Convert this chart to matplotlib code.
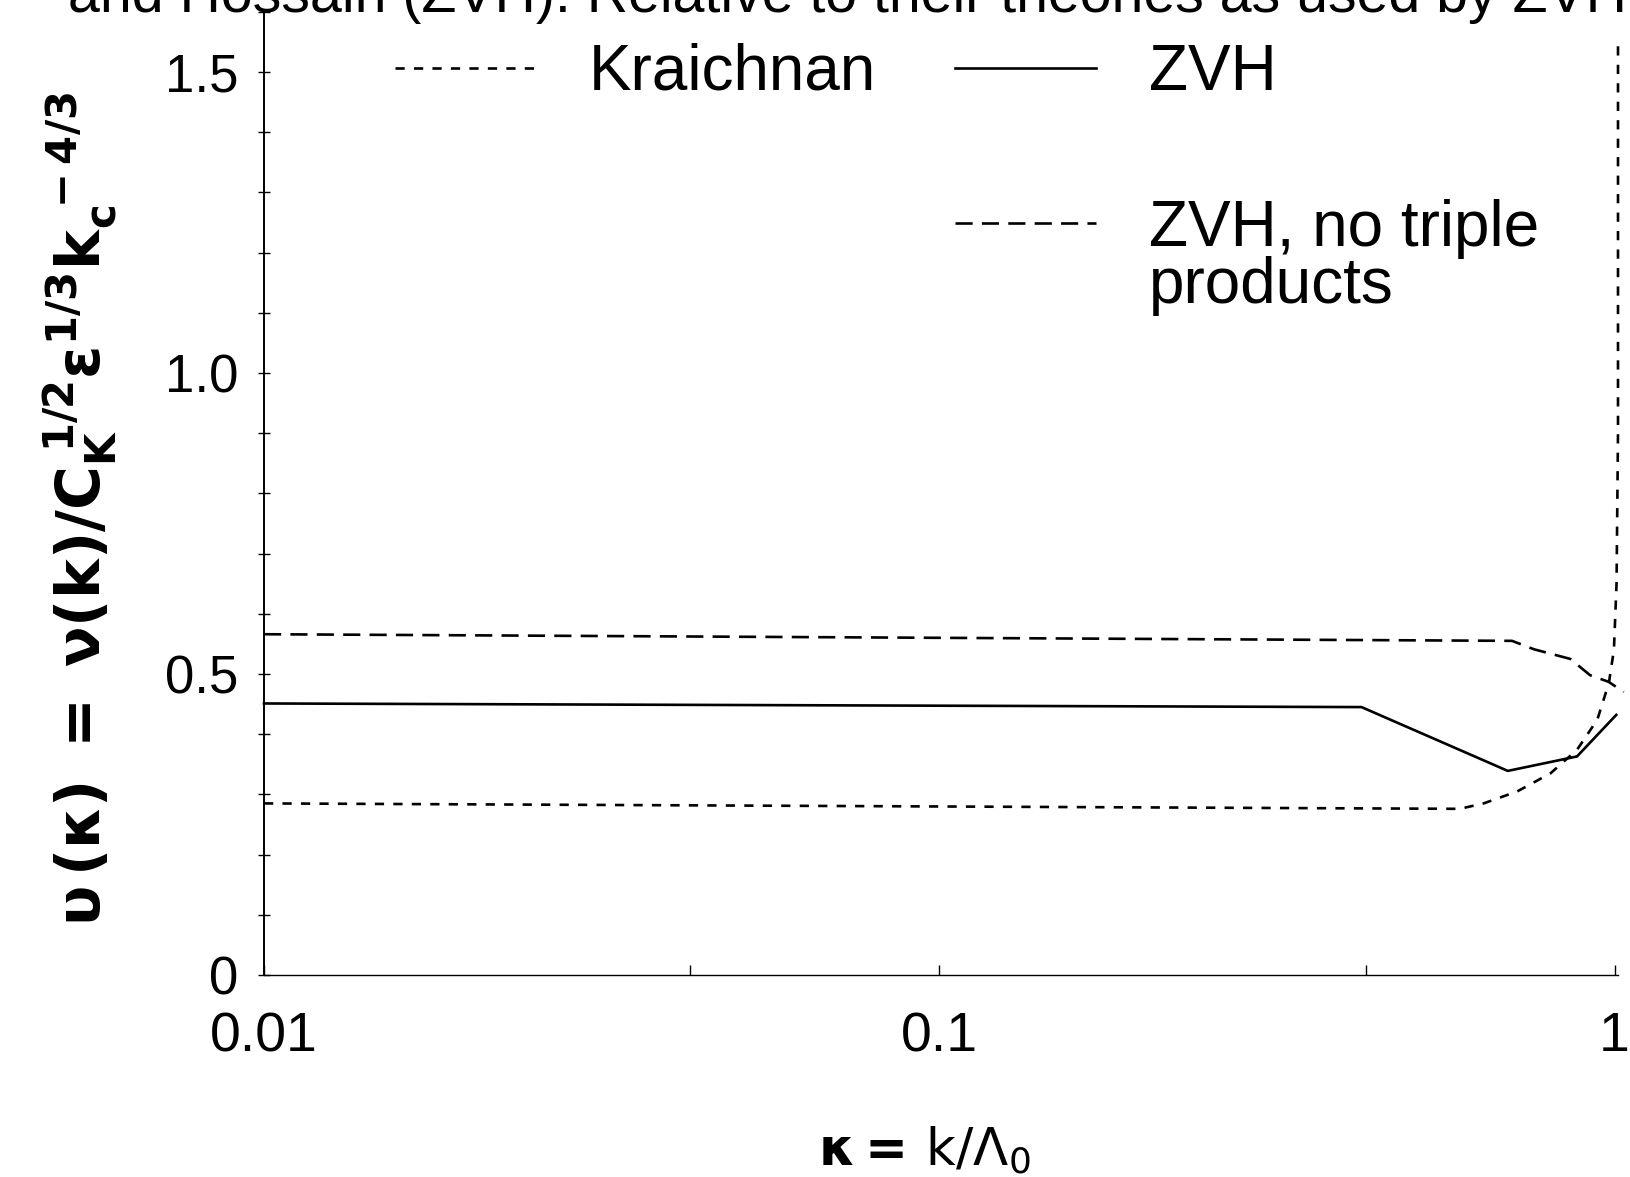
import matplotlib
matplotlib.use("Agg")
import matplotlib.pyplot as plt
from matplotlib.lines import Line2D
from matplotlib.ticker import MultipleLocator

plt.rcParams["font.family"] = ["Liberation Sans", "DejaVu Sans"]
plt.rcParams["mathtext.fontset"] = "dejavusans"

# curves (kappa = k / Lambda_0, normalised eddy viscosity)
kraichnan_k = [0.01, 0.59, 0.64, 0.718, 0.804, 0.88, 0.943, 0.981, 0.998, 1.007, 1.012, 1.012]
kraichnan_nu = [0.285, 0.276, 0.285, 0.305, 0.335, 0.374, 0.424, 0.485, 0.54, 0.65, 0.9, 1.55]

zvh_k = [0.01, 0.422, 0.695, 0.88, 1.006]
zvh_nu = [0.451, 0.445, 0.339, 0.363, 0.432]

zvh_nt_k = [0.01, 0.705, 0.76, 0.86, 0.92, 0.98, 1.032]
zvh_nt_nu = [0.566, 0.555, 0.541, 0.525, 0.498, 0.487, 0.47]

y_major = [0, 0.5, 1.0, 1.5]
y_labels = ["0", "0.5", "1.0", "1.5"]
x_major = [0.01, 0.1, 1]
x_labels = ["0.01", "0.1", "1"]
x_minor = [0.0428, 0.428]

caption = "and Hossain (ZVH). Relative to their theories as used by ZVH"

W, H = 1630, 1177
fig = plt.figure(figsize=(W / 100, H / 100), dpi=100)
ax = fig.add_axes([264 / W, 1 - 975 / H, (1618 - 264) / W, (975 - 11.7) / H])

lw = 1.9
l_k, = ax.plot(kraichnan_k, kraichnan_nu, color="black", lw=lw, dashes=(3.5, 3.5), clip_on=False)
l_z, = ax.plot(zvh_k, zvh_nu, color="black", lw=lw, clip_on=False)
l_nt, = ax.plot(zvh_nt_k, zvh_nt_nu, color="black", lw=lw, dashes=(6.5, 3.5), clip_on=False)

ax.set_xscale("log")
ax.set_xlim(0.01, 1.012)
ax.set_ylim(0, 1.6)

ax.spines["top"].set_visible(False)
ax.spines["right"].set_visible(False)
ax.spines["left"].set_linewidth(1.4)
ax.spines["bottom"].set_linewidth(1.0)

ax.set_yticks(y_major)
ax.set_yticklabels(y_labels)
ax.yaxis.set_minor_locator(MultipleLocator(0.1))
ax.tick_params(axis="y", which="both", direction="inout", length=9, width=1.0,
               labelsize=38, pad=14)

ax.set_xticks(x_major)
ax.set_xticklabels(x_labels)
ax.set_xticks(x_minor, minor=True)
ax.set_xticklabels([], minor=True)
ax.tick_params(axis="x", which="both", direction="in", length=7, width=1.0,
               labelsize=40, pad=26)

ax.set_xlabel(r"$\mathbf{\kappa=}\,\mathrm{k/\Lambda_0}$", fontsize=37)
ax.xaxis.set_label_coords((925 - 264) / (1618 - 264), -(1124 - 975) / (975 - 11.7))

ax.set_ylabel(r"$\mathbf{\upsilon\,(\kappa)\ =\ \nu(k)/C_K^{\ 1/2}\varepsilon^{1/3}k_c^{\ -4/3}}$",
              fontsize=43)
ax.yaxis.set_label_coords(-(264 - 120) / (1618 - 264), (975 - 509) / (975 - 11.7))

blank = Line2D([], [], linestyle="none")
leg = ax.legend([l_k, blank, l_z, l_nt], ["Kraichnan", "", "ZVH", "ZVH, no triple"],
                ncol=2, frameon=False, fontsize=46, handlelength=2.2,
                handletextpad=0.84, columnspacing=1.23, labelspacing=1.5,
                borderpad=0, borderaxespad=0, loc="upper left",
                bbox_to_anchor=(395 / W, 1 - 43 / H), bbox_transform=fig.transFigure)

cap = fig.text(68 / W, 1 - 12 / H, caption, fontsize=46, va="baseline", ha="left")

fig.canvas.draw()
r = fig.canvas.get_renderer()
bb = cap.get_window_extent(r)
cap.set_fontsize(46 * (1627 - 68) / bb.width)

tb = leg.get_texts()[3].get_window_extent(r)
fig.text(tb.x0 / W, 1 - 303 / H, "products", fontsize=46, va="baseline", ha="left")

fig.savefig("out.png", dpi=100)
